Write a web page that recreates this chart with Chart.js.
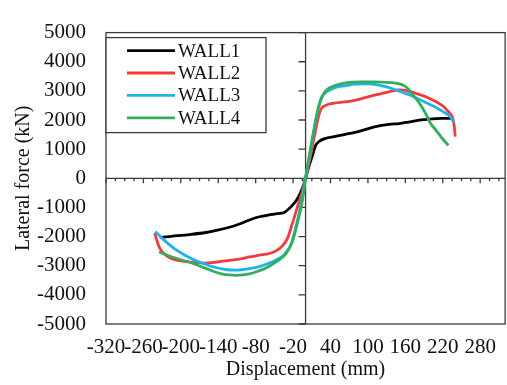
<!DOCTYPE html>
<html>
<head>
<meta charset="utf-8">
<title>Lateral force - displacement</title>
<script src="https://cdn.jsdelivr.net/npm/chart.js@4.4.1/dist/chart.umd.min.js"></script>
<style>
  html, body { margin: 0; padding: 0; background: #fff; }
</style>
</head>
<body>
<canvas id="envChart" width="507" height="385"></canvas>
<script>
const FONT = "'Liberation Serif', 'Times New Roman', serif";

const wallNames = ['WALL1', 'WALL2', 'WALL3', 'WALL4'];
const wallColors = ['#000000', '#F23B3B', '#1FB3EC', '#33AE5E'];

// envelope curves: displacement (mm) / lateral force (kN)
const wall1Disp = [-234, -215, -186, -160, -143, -122, -106, -90, -74, -60, -45, -34, -24, -13, -5, 0, 5, 11, 16, 22, 32, 46, 62, 86, 112, 134, 150, 165, 176, 190, 203, 218, 230, 236];
const wall1Force = [-2030, -1990, -1930, -1860, -1790, -1680, -1570, -1430, -1320, -1260, -1215, -1170, -990, -700, -330, 0, 380, 780, 1120, 1270, 1370, 1430, 1500, 1610, 1770, 1850, 1880, 1930, 1970, 2010, 2040, 2055, 2055, 2040];

const wall2Disp = [-242, -234, -218, -192, -160, -128, -106, -90, -74, -58, -48, -37, -29, -21, -13, -6, 0, 6, 14, 20, 25, 32, 46, 62, 75, 91, 112, 134, 150, 160, 176, 198, 219, 224, 232, 235, 238, 240];
const wall2Force = [-1880, -2390, -2720, -2860, -2910, -2830, -2770, -2700, -2640, -2580, -2500, -2320, -2060, -1540, -980, -500, 0, 560, 1430, 2050, 2380, 2500, 2580, 2620, 2660, 2740, 2860, 2970, 3030, 3020, 2920, 2750, 2500, 2400, 2220, 2130, 1860, 1430];

const wall3Disp = [-241, -229, -208, -181, -154, -128, -110, -90, -74, -64, -48, -37, -32, -24, -16, -8, 0, 5, 12, 18, 24, 30, 40, 54, 62, 80, 102, 123, 144, 150, 166, 176, 187, 203, 208, 224, 230, 238];
const wall3Force = [-1830, -2080, -2450, -2780, -3000, -3130, -3150, -3100, -3030, -2960, -2810, -2680, -2560, -2300, -1700, -950, 0, 600, 1450, 2150, 2700, 2900, 3040, 3150, 3170, 3230, 3240, 3170, 3040, 2990, 2870, 2770, 2660, 2500, 2450, 2240, 2160, 1920];

const wall4Disp = [-235, -213, -186, -160, -133, -117, -110, -90, -74, -64, -48, -32, -21, -13, -5, 0, 5, 12, 19, 22, 27, 32, 38, 46, 60, 75, 91, 110, 123, 144, 150, 158, 165, 171, 184, 195, 200, 208, 218, 229];
const wall4Force = [-2530, -2710, -2880, -3090, -3290, -3320, -3330, -3280, -3170, -3090, -2880, -2600, -2170, -1520, -760, 0, 650, 1500, 2300, 2520, 2820, 2990, 3100, 3170, 3260, 3300, 3310, 3310, 3300, 3270, 3240, 3180, 3060, 2890, 2530, 2120, 1900, 1680, 1400, 1130];

const xTicks = [-320, -260, -200, -140, -80, -20, 40, 100, 160, 220, 280];
const yTicks = [-5000, -4000, -3000, -2000, -1000, 0, 1000, 2000, 3000, 4000, 5000];
const xMinorStep = 15;

const allDisp = [wall1Disp, wall2Disp, wall3Disp, wall4Disp];
const allForce = [wall1Force, wall2Force, wall3Force, wall4Force];

const toPoints = (xs, ys) => xs.map((x, i) => ({ x: x, y: ys[i] }));

// frame plus the two axes crossing at the origin, with their tick marks
const crossAxes = {
    id: 'crossAxes',
    beforeDatasetsDraw(chart) {
        const { ctx, chartArea: area, scales: { x, y } } = chart;
        const x0 = x.getPixelForValue(0);
        const y0 = y.getPixelForValue(0);
        ctx.save();
        ctx.strokeStyle = '#3a3a3a';
        ctx.lineWidth = 1.3;
        ctx.strokeRect(area.left, area.top, area.width, area.height);
        ctx.beginPath();
        ctx.moveTo(area.left, y0);
        ctx.lineTo(area.right, y0);
        ctx.moveTo(x0, area.top);
        ctx.lineTo(x0, area.bottom);
        for (let v = xTicks[0]; v <= x.max; v += xMinorStep) {
            const px = x.getPixelForValue(v);
            const len = (v - xTicks[0]) % 60 === 0 ? 5 : 3;
            ctx.moveTo(px, y0);
            ctx.lineTo(px, y0 + len);
        }
        yTicks.forEach(v => {
            const py = y.getPixelForValue(v);
            ctx.moveTo(x0 - 7, py);
            ctx.lineTo(x0, py);
        });
        ctx.stroke();
        ctx.restore();
    }
};

// boxed legend in the top left corner of the plot
const boxLegend = {
    id: 'boxLegend',
    afterDraw(chart) {
        const { ctx, chartArea: area } = chart;
        const left = area.left;
        const top = area.top + 5;
        ctx.save();
        ctx.fillStyle = '#fff';
        ctx.fillRect(left, top, 160, 95);
        ctx.strokeStyle = '#3a3a3a';
        ctx.lineWidth = 1.3;
        ctx.strokeRect(left, top, 160, 95);
        ctx.font = '19px ' + FONT;
        ctx.textBaseline = 'middle';
        chart.data.datasets.forEach((ds, i) => {
            const cy = top + 13 + i * 22.4;
            ctx.strokeStyle = ds.borderColor;
            ctx.lineWidth = 2.8;
            ctx.beginPath();
            ctx.moveTo(left + 21, cy);
            ctx.lineTo(left + 69, cy);
            ctx.stroke();
            ctx.fillStyle = '#111';
            ctx.fillText(ds.label, left + 72, cy + 1);
        });
        ctx.restore();
    }
};

const ctx = document.getElementById('envChart').getContext('2d');

new Chart(ctx, {
    type: 'scatter',
    data: {
        datasets: wallNames.map((name, i) => ({
            label: name,
            data: toPoints(allDisp[i], allForce[i]),
            showLine: true,
            borderColor: wallColors[i],
            backgroundColor: wallColors[i],
            borderWidth: 2.8,
            pointRadius: 0,
            cubicInterpolationMode: 'monotone',
            order: wallNames.length - i
        }))
    },
    options: {
        responsive: false,
        animation: false,
        devicePixelRatio: 1,
        layout: { padding: { top: 17, right: 1, left: 0, bottom: 0 } },
        plugins: {
            legend: { display: false },
            tooltip: { enabled: false }
        },
        scales: {
            x: {
                type: 'linear',
                position: 'bottom',
                min: -320,
                max: 320,
                afterBuildTicks: (scale) => { scale.ticks = xTicks.map(v => ({ value: v })); },
                afterFit: (scale) => { scale.height = 61; },
                grid: { display: false, drawTicks: false },
                border: { display: false },
                ticks: {
                    autoSkip: false,
                    maxRotation: 0,
                    minRotation: 0,
                    padding: 11,
                    color: '#111',
                    font: { family: FONT, size: 21 },
                    callback: (v) => String(v)
                },
                title: {
                    display: true,
                    text: 'Displacement (mm)',
                    color: '#111',
                    font: { family: FONT, size: 20 },
                    padding: { top: 0, bottom: 3 }
                }
            },
            y: {
                type: 'linear',
                position: 'left',
                min: -5000,
                max: 5000,
                afterBuildTicks: (scale) => { scale.ticks = yTicks.map(v => ({ value: v })); },
                afterFit: (scale) => { scale.width = 106; },
                grid: { display: false, drawTicks: false },
                border: { display: false },
                ticks: {
                    padding: 20,
                    color: '#111',
                    font: { family: FONT, size: 21 },
                    callback: (v) => String(v)
                },
                title: {
                    display: true,
                    text: 'Lateral force (kN)',
                    color: '#111',
                    font: { family: FONT, size: 20 },
                    padding: { top: 12, bottom: 0 }
                }
            }
        }
    },
    plugins: [crossAxes, boxLegend]
});
</script>
</body>
</html>
